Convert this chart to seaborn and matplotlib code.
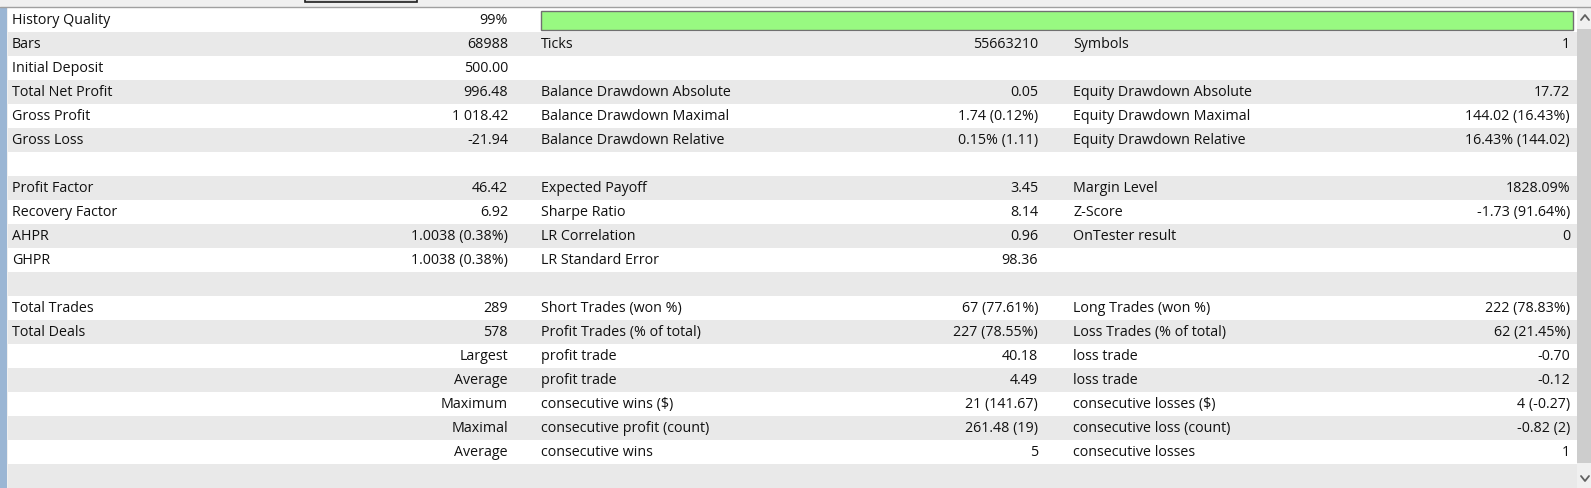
import matplotlib
matplotlib.use('Agg')
import matplotlib.pyplot as plt
import seaborn as sns
import numpy as np
from matplotlib.colors import ListedColormap

# report rows (20 rows, top to bottom)
col0_labels = ["History Quality", "Bars", "Initial Deposit", "Total Net Profit", "Gross Profit",
               "Gross Loss", "", "Profit Factor", "Recovery Factor", "AHPR", "GHPR", "",
               "Total Trades", "Total Deals", "", "", "", "", "", ""]
col0_values = ["99%", "68988", "500.00", "996.48", "1 018.42", "-21.94", "", "46.42", "6.92",
               "1.0038 (0.38%)", "1.0038 (0.38%)", "", "289", "578", "Largest", "Average",
               "Maximum", "Maximal", "Average", ""]
col1_labels = ["", "Ticks", "", "Balance Drawdown Absolute", "Balance Drawdown Maximal",
               "Balance Drawdown Relative", "", "Expected Payoff", "Sharpe Ratio", "LR Correlation",
               "LR Standard Error", "", "Short Trades (won %)", "Profit Trades (% of total)",
               "profit trade", "profit trade", "consecutive wins ($)", "consecutive profit (count)",
               "consecutive wins", ""]
col1_values = ["", "55663210", "", "0.05", "1.74 (0.12%)", "0.15% (1.11)", "", "3.45", "8.14", "0.96",
               "98.36", "", "67 (77.61%)", "227 (78.55%)", "40.18", "4.49", "21 (141.67)",
               "261.48 (19)", "5", ""]
col2_labels = ["", "Symbols", "", "Equity Drawdown Absolute", "Equity Drawdown Maximal",
               "Equity Drawdown Relative", "", "Margin Level", "Z-Score", "OnTester result", "", "",
               "Long Trades (won %)", "Loss Trades (% of total)", "loss trade", "loss trade",
               "consecutive losses ($)", "consecutive loss (count)", "consecutive losses", ""]
col2_values = ["", "1", "", "17.72", "144.02 (16.43%)", "16.43% (144.02)", "", "1828.09%",
               "-1.73 (91.64%)", "0", "", "", "222 (78.83%)", "62 (21.45%)", "-0.70", "-0.12",
               "4 (-0.27)", "-0.82 (2)", "1", ""]
history_quality = 99

W, H = 1591, 488
TOP, LEFT, RIGHT, ROW_H = 8, 8, 1577, 24
n_rows = len(col0_labels)

sns.set_style('white')
plt.rcParams['font.family'] = ['Open Sans', 'DejaVu Sans']
fig = plt.figure(figsize=(W / 100, H / 100), dpi=100, facecolor='#f0f0f0')

# alternating row stripes as a one-column heatmap
ax_bg = fig.add_axes([LEFT / W, 0, (RIGHT - LEFT) / W, (H - TOP) / H])
stripes = np.array([[i % 2] for i in range(n_rows)])
sns.heatmap(stripes, ax=ax_bg, cmap=ListedColormap(['#ffffff', '#e9e9e9']), cbar=False,
            xticklabels=False, yticklabels=False, linewidths=0)
ax_bg.set_axis_off()

ax = fig.add_axes([0, 0, 1, 1])
ax.set_xlim(0, W)
ax.set_ylim(H, 0)
ax.set_axis_off()
ax.patch.set_alpha(0)

# window chrome
ax.axhline(7, color='#a0a0a0', lw=1)
ax.add_patch(plt.Rectangle((305, -3), 112, 5, facecolor='#d8d8d8', edgecolor='#202020', lw=1.2))
ax.add_patch(plt.Rectangle((0, TOP), 7, H - TOP, facecolor='#9bb6d4', edgecolor='none'))
ax.add_patch(plt.Rectangle((RIGHT, TOP), W - RIGHT, H - TOP, facecolor='#f0f0f0', edgecolor='none'))
ax.add_patch(plt.Rectangle((RIGHT, 29), W - RIGHT, 434, facecolor='#cdcdcd', edgecolor='none'))
ax.plot([1581, 1585, 1589], [20, 15, 20], color='#606060', lw=1.3)
ax.plot([1581, 1585, 1589], [476, 481, 476], color='#606060', lw=1.3)

# history quality bar
bar_left, bar_full = 541, 1032 / 0.99
ax.barh([TOP + ROW_H / 2], [bar_full * history_quality / 100], left=bar_left, height=19,
        color='#98f981', edgecolor='#707070', linewidth=1)

fs = 10.3
tc = '#111111'
cols = [(col0_labels, 12, 'left'), (col0_values, 508, 'right'),
        (col1_labels, 541, 'left'), (col1_values, 1038, 'right'),
        (col2_labels, 1073, 'left'), (col2_values, 1570, 'right')]
for texts, x, ha in cols:
    for i, t in enumerate(texts):
        if t:
            ax.text(x, TOP + ROW_H * i + ROW_H / 2 + 0.5, t, ha=ha, va='center',
                    fontsize=fs, color=tc)

plt.savefig('out.png', dpi=100, facecolor=fig.get_facecolor())
plt.close()
